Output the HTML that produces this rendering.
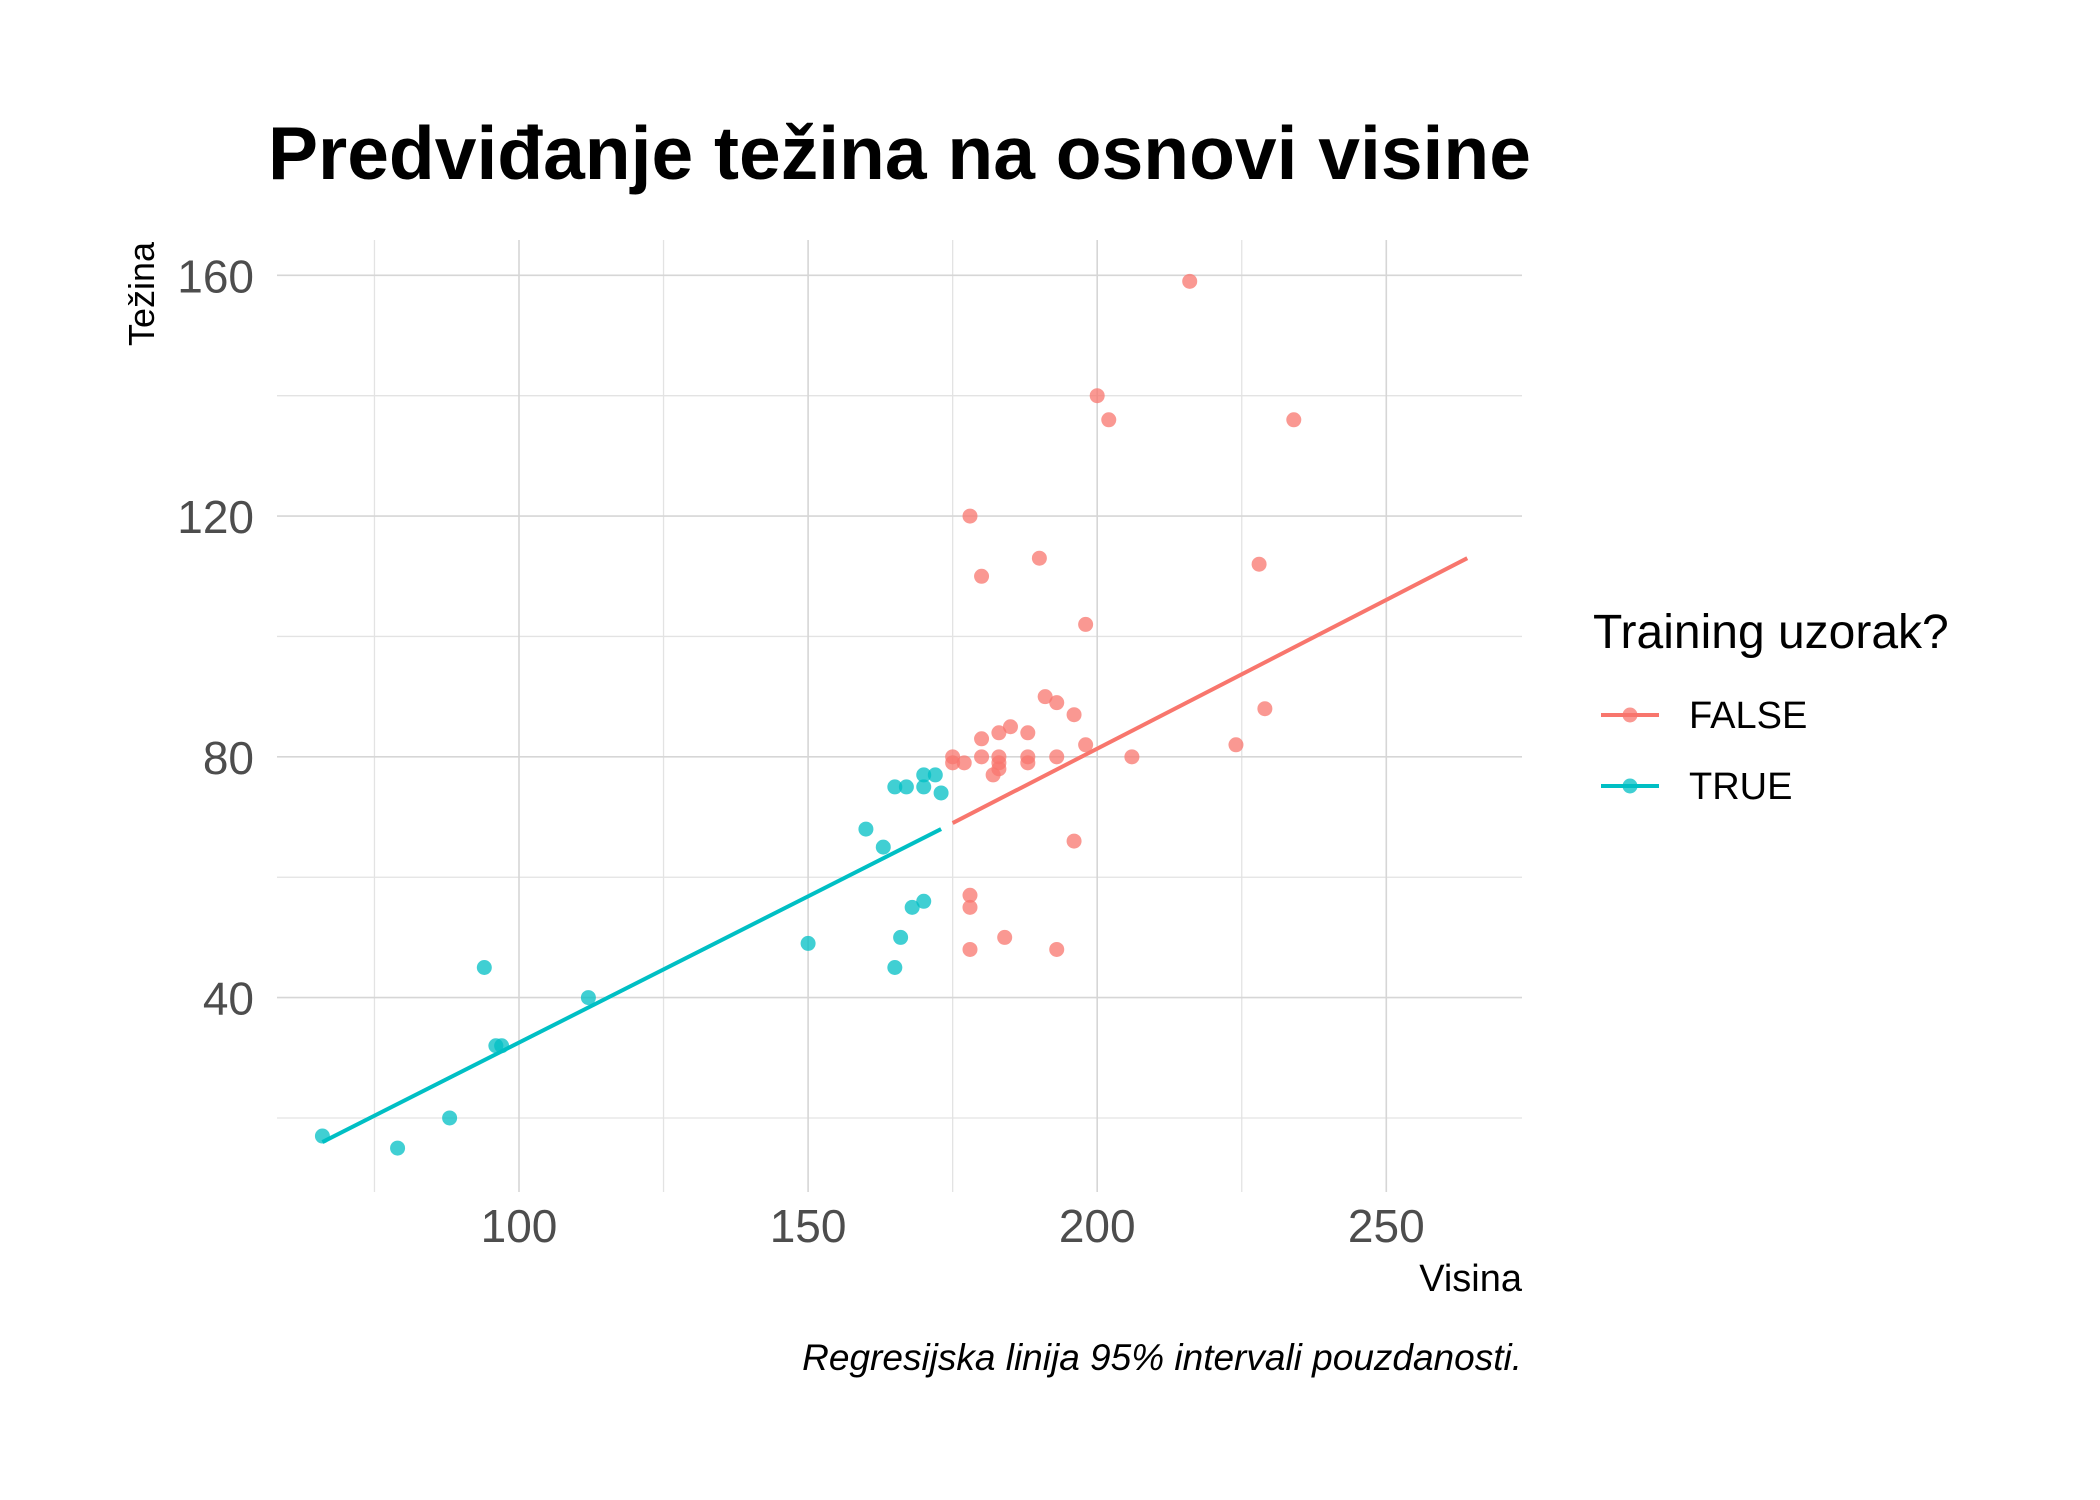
<!DOCTYPE html>
<html><head><meta charset="utf-8"><style>body{margin:0;background:#fff}svg{display:block}</style></head>
<body>
<svg id="chart" width="2100" height="1500" xmlns="http://www.w3.org/2000/svg" font-family="Liberation Sans, sans-serif">
<g id="grid"></g>
<g id="marks"></g>
<g id="ticks"></g>
<text x="268" y="179" font-size="75" font-weight="bold" fill="#000">Predviđanje težina na osnovi visine</text>
<text x="1522" y="1291" font-size="38" text-anchor="end" fill="#000">Visina</text>
<text transform="translate(154,294) rotate(-90)" font-size="36" text-anchor="middle" fill="#000">Težina</text>
<text x="1522" y="1370" font-size="37" font-style="italic" text-anchor="end" fill="#000">Regresijska linija 95% intervali pouzdanosti.</text>
<g>
<text x="1593" y="648" font-size="48" fill="#000">Training uzorak?</text>
<g><line x1="1601" y1="715" x2="1659" y2="715" stroke="#F8766D" stroke-width="4"/><circle cx="1630" cy="715" r="7.5" fill="#F8766D" opacity="0.75"/><text x="1689" y="728" font-size="38" fill="#000">FALSE</text></g>
<g><line x1="1601" y1="786" x2="1659" y2="786" stroke="#00BFC4" stroke-width="4"/><circle cx="1630" cy="786" r="7.5" fill="#00BFC4" opacity="0.75"/><text x="1689" y="799" font-size="38" fill="#000">TRUE</text></g>
</g>
</svg>
<script>
const xMajor=[100,150,200,250];
const xMinor=[75,125,175,225];
const yMajor=[40,80,120,160];
const yMinor=[20,60,100,140];
const trueX=[66,79,88,94,96,97,112,150,160,163,165,165,166,167,168,170,170,170,172,173];
const trueY=[17,15,20,45,32,32,40,49,68,65,75,45,50,75,55,77,75,56,77,74];
const falseX=[216,200,202,234,178,180,190,228,198,191,193,196,229,185,183,188,180,198,224,175,175,177,180,183,183,183,188,188,193,206,182,196,178,178,184,178,193];
const falseY=[159,140,136,136,120,110,113,112,102,90,89,87,88,85,84,84,83,82,82,80,79,79,80,80,79,78,80,79,80,80,77,66,57,55,50,48,48];
const trueLineX=[66,173];const trueLineY=[16,68];
const falseLineX=[175,264];const falseLineY=[69,113];
const L=277,R=1522,T=240,B=1192;
const sx=v=>519+(v-100)*5.782;
const sy=v=>997.6-(v-40)*6.019;
const NS='http://www.w3.org/2000/svg';
function mk(p,t,a){const e=document.createElementNS(NS,t);for(const k in a)e.setAttribute(k,a[k]);p.appendChild(e);return e;}
const grid=document.getElementById('grid'),marks=document.getElementById('marks'),ticks=document.getElementById('ticks');
xMinor.forEach(v=>{const e=mk(grid,'line',{x1:sx(v),x2:sx(v),y1:T,y2:B,stroke:'#e3e3e3','stroke-width':1.3});

});
yMinor.forEach(v=>{const e=mk(grid,'line',{x1:L,x2:R,y1:sy(v),y2:sy(v),stroke:'#e3e3e3','stroke-width':1.3});

});
xMajor.forEach(v=>{const e=mk(grid,'line',{x1:sx(v),x2:sx(v),y1:T,y2:B,stroke:'#d6d6d6','stroke-width':1.6});


const t=mk(ticks,'text',{x:sx(v),y:1242,'font-size':46,'text-anchor':'middle',fill:'#4d4d4d'});t.textContent=v;

});
yMajor.forEach(v=>{const e=mk(grid,'line',{x1:L,x2:R,y1:sy(v),y2:sy(v),stroke:'#d6d6d6','stroke-width':1.6});


const t=mk(ticks,'text',{x:254,y:sy(v)+17,'font-size':46,'text-anchor':'end',fill:'#4d4d4d'});t.textContent=v;

});
falseX.forEach((x,i)=>{const c=mk(marks,'circle',{cx:sx(x),cy:sy(falseY[i]),r:7.5,fill:'#F8766D',opacity:0.75});

});
trueX.forEach((x,i)=>{const c=mk(marks,'circle',{cx:sx(x),cy:sy(trueY[i]),r:7.5,fill:'#00BFC4',opacity:0.75});

});
const l1=mk(marks,'line',{x1:sx(falseLineX[0]),y1:sy(falseLineY[0]),x2:sx(falseLineX[1]),y2:sy(falseLineY[1]),stroke:'#F8766D','stroke-width':4});


const l2=mk(marks,'line',{x1:sx(trueLineX[0]),y1:sy(trueLineY[0]),x2:sx(trueLineX[1]),y2:sy(trueLineY[1]),stroke:'#00BFC4','stroke-width':4});


</script>
</body></html>
